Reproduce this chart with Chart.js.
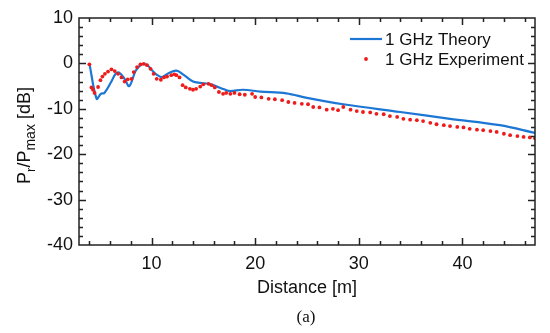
<!DOCTYPE html>
<html>
<head>
<meta charset="utf-8">
<script src="https://cdn.jsdelivr.net/npm/chart.js@4/dist/chart.umd.min.js"></script>
<style>
  html, body { margin: 0; padding: 0; background: #fff; }
  #wrap { width: 550px; height: 333px; position: relative; }
</style>
</head>
<body>
<div id="wrap"><canvas id="chart"></canvas></div>
<script>
// values
const theoryX = [4.0, 4.7, 5.1, 5.45, 6.1, 6.5, 6.85, 7.4, 7.85, 8.5, 9.1, 9.6, 10.0, 10.5, 11.0, 11.6, 12.4,
  13.2, 14.0, 14.7, 15.5, 16.2, 17.0, 17.6, 18.8, 20.5, 23.0, 25.0, 28.5, 34.0, 38.8, 43.6, 47.0];
const theoryY = [0, -7.8, -6.7, -6.5, -4.1, -2.4, -2.0, -3.4, -5.0, -1.5, -0.2, -0.4, -1.4, -2.5, -3.0, -2.2, -1.6,
  -2.7, -4.0, -4.3, -4.5, -5.0, -5.7, -6.1, -5.8, -6.2, -6.6, -7.6, -9.0, -10.7, -12.2, -13.6, -15.3];

const expX = [4.0, 4.2, 4.35, 4.5, 4.84, 5.07, 5.26, 5.5, 5.8, 6.13, 6.45, 6.77, 7.1, 7.4, 7.7, 8.06, 8.28, 8.6,
  8.93, 9.25, 9.57, 9.9, 10.2, 10.5, 10.9, 11.2, 11.5, 11.9, 12.2, 12.4, 12.7, 13.0, 13.3, 13.7, 14.0, 14.3,
  14.7, 15.0, 15.5, 15.8, 16.1, 16.5, 16.9, 17.2, 17.6, 18.0, 18.5, 19.0, 19.7, 20.0, 20.6, 21.3, 21.9, 22.6,
  23.2, 23.8, 24.5, 25.1, 25.6, 26.2, 26.9, 27.5, 28.0, 28.5, 29.2, 29.8, 30.4, 31.1, 31.7, 32.4, 33.0, 33.7,
  34.3, 34.95, 35.6, 36.2, 36.9, 37.5, 38.2, 38.8, 39.5, 40.1, 40.7, 41.4, 42.0, 42.7, 43.3, 44.0, 44.6, 45.3,
  45.9, 46.5, 47.0];
const expY = [-0.2, -5.3, -5.8, -6.5, -5.2, -3.7, -2.9, -2.3, -1.8, -1.3, -1.7, -2.3, -3.1, -4.0, -3.5, -3.4, -1.9, -0.8,
  -0.2, -0.1, -0.4, -1.2, -2.3, -3.4, -3.6, -3.1, -2.9, -2.6, -2.4, -2.6, -3.1, -4.8, -5.3, -5.6, -5.8, -5.6,
  -5.1, -4.6, -4.5, -4.8, -5.3, -6.3, -6.7, -6.5, -6.7, -6.5, -6.8, -6.9, -6.7, -7.4, -7.5, -7.8, -7.9, -8.1,
  -8.5, -8.7, -8.9, -9.0, -9.6, -9.7, -10.2, -10.0, -10.3, -9.6, -10.2, -10.5, -10.7, -10.8, -11.1, -11.2, -11.6, -11.8,
  -12.2, -12.4, -12.5, -12.7, -13.1, -13.4, -13.6, -13.8, -14.0, -14.1, -14.4, -14.6, -14.7, -14.9, -15.1, -15.5, -15.8, -16.0,
  -16.2, -16.3, -16.5];

const xTickLabels = [10, 20, 30, 40];
const yTickLabels = [10, 0, -10, -20, -30, -40];

const BLUE = '#1b76d4';
const RED = '#ee1b1b';
const AXIS = '#222';
const FONT = '"Liberation Sans", Arial, Helvetica, sans-serif';

function pts(xs, ys) {
  return xs.map((x, i) => ({ x: x, y: ys[i] }));
}

// frame, inward ticks, titles and legend
const decor = {
  id: 'decor',
  afterDraw(chart) {
    const ctx = chart.ctx;
    const a = chart.chartArea;
    const xs = chart.scales.x, ys = chart.scales.y;
    ctx.save();
    ctx.strokeStyle = AXIS;
    ctx.lineWidth = 1.5;
    ctx.strokeRect(a.left, a.top, a.right - a.left, a.bottom - a.top);

    ctx.beginPath();
    for (let v = 4; v <= 46; v += 2) {
      const len = v % 10 === 0 ? 7 : 4;
      const px = Math.round(xs.getPixelForValue(v)) + 0.5;
      ctx.moveTo(px, a.bottom); ctx.lineTo(px, a.bottom - len);
      ctx.moveTo(px, a.top); ctx.lineTo(px, a.top + len);
    }
    for (let v = -38; v <= 8; v += 2) {
      const len = v % 10 === 0 ? 7 : 4;
      const py = Math.round(ys.getPixelForValue(v)) + 0.5;
      ctx.moveTo(a.left, py); ctx.lineTo(a.left + len, py);
      ctx.moveTo(a.right, py); ctx.lineTo(a.right - len, py);
    }
    ctx.stroke();

    // x title and caption
    ctx.fillStyle = '#111';
    ctx.textAlign = 'center';
    ctx.textBaseline = 'middle';
    ctx.font = '18px ' + FONT;
    ctx.fillText('Distance [m]', (a.left + a.right) / 2, 288);
    ctx.font = '17px "Liberation Serif", "Times New Roman", serif';
    ctx.fillText('(a)', (a.left + a.right) / 2 - 1, 318);

    // y title with subscripts
    const parts = [
      ['P', 18, 0], ['r', 13, 6], ['/P', 18, 0], ['max', 14, 6], [' [dB]', 18, 0]
    ];
    let total = 0;
    for (const p of parts) { ctx.font = p[1] + 'px ' + FONT; total += ctx.measureText(p[0]).width; }
    ctx.translate(25, (a.top + a.bottom) / 2 + 4);
    ctx.rotate(-Math.PI / 2);
    ctx.textAlign = 'left';
    let cx = -total / 2;
    for (const p of parts) {
      ctx.font = p[1] + 'px ' + FONT;
      ctx.fillText(p[0], cx, p[2]);
      cx += ctx.measureText(p[0]).width;
    }
    ctx.restore();

    // legend
    ctx.save();
    const ds = chart.data.datasets;
    ctx.font = '17px ' + FONT;
    ctx.textBaseline = 'middle';
    ctx.fillStyle = '#111';
    ctx.strokeStyle = BLUE;
    ctx.lineWidth = 2.2;
    ctx.beginPath();
    ctx.moveTo(350, 39); ctx.lineTo(382, 39);
    ctx.stroke();
    ctx.fillText(ds[0].label, 385, 40);
    ctx.fillStyle = RED;
    ctx.beginPath();
    ctx.arc(366, 59, 1.9, 0, Math.PI * 2);
    ctx.fill();
    ctx.fillStyle = '#111';
    ctx.fillText(ds[1].label, 385, 60);
    ctx.restore();
  }
};

new Chart(document.getElementById('chart'), {
  type: 'scatter',
  data: {
    datasets: [
      {
        label: '1 GHz Theory',
        data: pts(theoryX, theoryY),
        showLine: true,
        borderColor: BLUE,
        borderWidth: 2.2,
        pointRadius: 0,
        tension: 0.35,
        order: 2
      },
      {
        label: '1 GHz Experiment',
        data: pts(expX, expY),
        backgroundColor: RED,
        borderWidth: 0,
        pointRadius: 1.9,
        order: 1
      }
    ]
  },
  options: {
    responsive: true,
    maintainAspectRatio: false,
    animation: false,
    events: [],
    layout: { padding: { top: 18, right: 15, left: 0, bottom: 0 } },
    plugins: { legend: { display: false }, tooltip: { enabled: false } },
    scales: {
      x: {
        type: 'linear',
        min: 3, max: 47,
        afterBuildTicks: s => { s.ticks = xTickLabels.map(v => ({ value: v })); },
        afterFit: s => { s.height = 88; },
        grid: { display: false, drawTicks: false },
        border: { display: false },
        ticks: { color: '#111', padding: 8, font: { family: FONT, size: 18 } }
      },
      y: {
        type: 'linear',
        min: -40, max: 10,
        afterBuildTicks: s => { s.ticks = yTickLabels.map(v => ({ value: v })); },
        afterFit: s => { s.width = 79; },
        grid: { display: false, drawTicks: false },
        border: { display: false },
        ticks: { color: '#111', padding: 6, font: { family: FONT, size: 18 } }
      }
    }
  },
  plugins: [decor]
});
</script>
</body>
</html>
